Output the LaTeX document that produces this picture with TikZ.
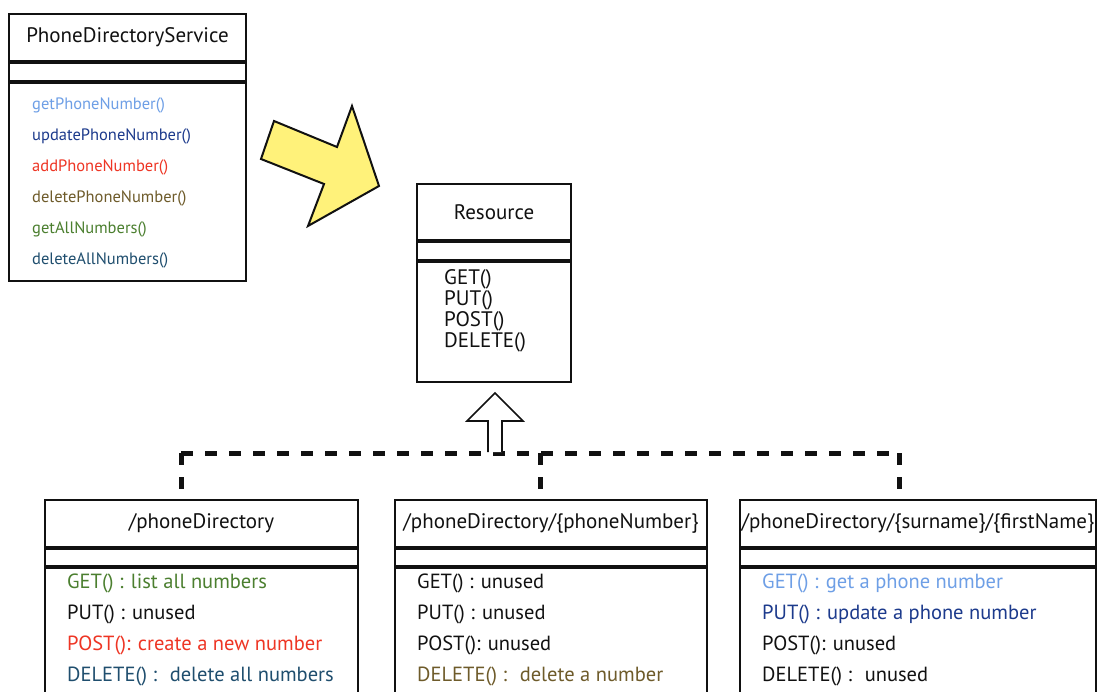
\documentclass[tikz,border=0pt]{standalone}
\usepackage{fontspec}
\setmainfont{PT Sans}
\usetikzlibrary{positioning,calc}
\definecolor{ink}{HTML}{111111}
\definecolor{getc}{HTML}{6E9FE6}
\definecolor{putc}{HTML}{1C3A8C}
\definecolor{postc}{HTML}{EE3524}
\definecolor{delc}{HTML}{6E5B2A}
\definecolor{allc}{HTML}{4B7F2F}
\definecolor{delallc}{HTML}{1F4E6E}
\definecolor{hint}{HTML}{FFF27A}

\begin{document}
\begin{tikzpicture}[x=1pt, y=-1pt, text=ink,
  box/.style={draw=ink, line width=2pt, fill=white, inner sep=0pt, anchor=north, minimum width=#1},
  hd/.style={font=\fontsize{21}{24}\selectfont},
  ops/.style={anchor=north west, inner sep=0pt, align=left, font=\fontsize{20.5}{31}\selectfont},
  sep/.style={draw=ink, line width=3.5pt},
  dashline/.style={draw=ink, line width=5pt, dash pattern=on 12pt off 12pt},
  hollow/.style={draw=ink, line width=1.6pt, fill=white, line join=miter},
  bigarrow/.style={draw=ink, line width=2pt, fill=hint, line join=miter}
]
\useasboundingbox (0,0) rectangle (1098,691);
\clip (0,0) rectangle (1098,691);

% ---- service class
\node[box=237, minimum height=47, hd] (svcT) at (127.5,13) {PhoneDirectoryService};
\node[box=237, minimum height=18, below=0pt of svcT] (svcA) {};
\node[box=237, minimum height=198, below=0pt of svcA] (svcO) {};
\node[ops, font=\fontsize{16.5}{31}\selectfont] (svcL) at ($(svcO.north west)+(24,16)$)
  {\textcolor{getc}{getPhoneNumber()}\\\textcolor{putc}{updatePhoneNumber()}\\\textcolor{postc}{addPhoneNumber()}\\
   \textcolor{delc}{deletePhoneNumber()}\\\textcolor{allc}{getAllNumbers()}\\\textcolor{delallc}{deleteAllNumbers()}};
\draw[sep] (svcT.south west) -- (svcT.south east);
\draw[sep] (svcA.south west) -- (svcA.south east);

% ---- yellow arrow
\draw[bigarrow] (274,121) -- (337,147) -- (352,106) -- (379,186) -- (308,226) -- (324,184) -- (261,159) -- cycle;

% ---- resource class
\node[box=154, minimum height=56, hd] (resT) at (494,183) {Resource};
\node[box=154, minimum height=18, below=0pt of resT] (resA) {};
\node[box=154, minimum height=120, below=0pt of resA] (resO) {};
\node[ops, font=\fontsize{21}{21}\selectfont] (resL) at ($(resO.north west)+(28,8)$)
  {GET()\\PUT()\\POST()\\DELETE()};
\draw[sep] (resT.south west) -- (resT.south east);
\draw[sep] (resA.south west) -- (resA.south east);

% ---- resources
\node[box=313, minimum height=47, hd] (pdT) at (201.5,499) {/phoneDirectory};
\node[box=313, minimum height=17, below=0pt of pdT] (pdA) {};
\node[box=313, minimum height=200, below=0pt of pdA] (pdO) {};
\node[ops] (pdL) at ($(pdO.north west)+(23,7)$)
  {\textcolor{allc}{GET() : list all numbers}\\PUT() : unused\\\textcolor{postc}{POST(): create a new number}\\
   \textcolor{delallc}{DELETE() : \ delete all numbers}};

\node[box=312, minimum height=47, hd] (pnT) at (551,499) {/phoneDirectory/\{phoneNumber\}};
\node[box=312, minimum height=17, below=0pt of pnT] (pnA) {};
\node[box=312, minimum height=200, below=0pt of pnA] (pnO) {};
\node[ops] (pnL) at ($(pnO.north west)+(23,7)$)
  {GET() : unused\\PUT() : unused\\POST(): unused\\\textcolor{delc}{DELETE() : \ delete a number}};

\node[box=356, minimum height=47, hd] (snT) at (918,499) {/phoneDirectory/\{surname\}/\{firstName\}};
\node[box=356, minimum height=17, below=0pt of snT] (snA) {};
\node[box=356, minimum height=200, below=0pt of snA] (snO) {};
\node[ops] (snL) at ($(snO.north west)+(23,7)$)
  {\textcolor{getc}{GET() : get a phone number}\\\textcolor{putc}{PUT() : update a phone number}\\POST(): unused\\DELETE() : \ unused};

\foreach \n in {pd,pn,sn} {
  \draw[sep] (\n T.south west) -- (\n T.south east);
  \draw[sep] (\n A.south west) -- (\n A.south east);
}

% ---- realisation
\coordinate (hubL) at (181,453);
\coordinate (hubM) at (540,453);
\coordinate (hubR) at (899,453);
\draw[dashline] (hubL) -- (hubR);
\foreach \h in {hubL,hubM,hubR} \draw[dashline] (\h) -- ++(0,36);
\draw[hollow] (488,452) -- (488,421) -- (467,421) -- ($(resO.south)+(1,10)$) -- (523,421) -- (502,421) -- (502,452);
\end{tikzpicture}
\end{document}
